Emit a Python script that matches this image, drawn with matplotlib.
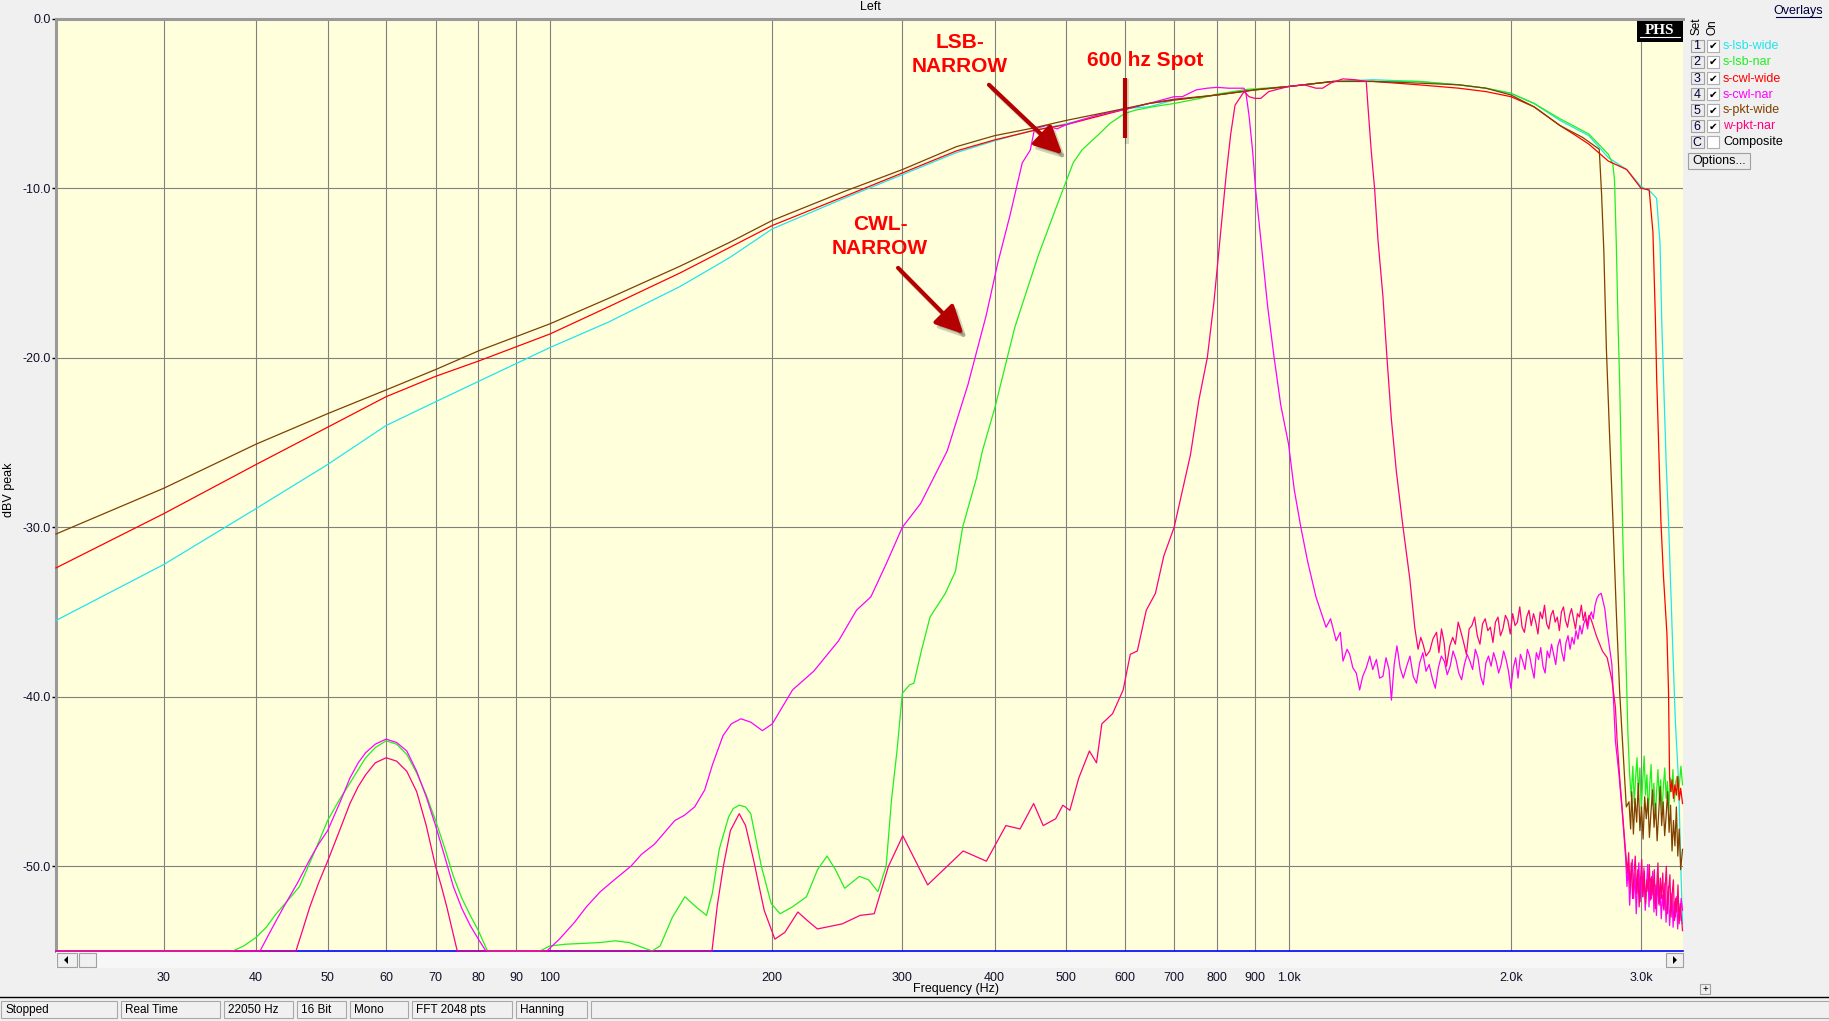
import matplotlib
matplotlib.use('Agg')
import matplotlib.pyplot as plt
from matplotlib.patches import Rectangle, Polygon
from matplotlib.lines import Line2D
from matplotlib.ticker import NullLocator

# ---- data (Hz, dBV) ----
lsb_wide_hz = [21.44, 30, 40, 50, 60, 70, 80, 100, 120, 150, 175, 200, 250, 300, 355, 400, 450, 500, 600, 647,
               700, 800, 900, 1000, 1150, 1300, 1500, 1700, 1850, 2000, 2150, 2330, 2450, 2550, 2710, 2870, 3000,
               3090, 3150, 3184, 3200, 3218, 3245, 3269, 3304, 3339, 3374, 3399, 3415]
lsb_wide_db = [-35.5, -32.2, -28.9, -26.3, -24.0, -22.6, -21.4, -19.4, -17.9, -15.8, -14.1, -12.4, -10.6, -9.2,
               -7.9, -7.2, -6.6, -6.2, -5.3, -5.2, -4.8, -4.5, -4.2, -4.0, -3.7, -3.6, -3.7, -3.9, -4.1, -4.4,
               -5.0, -6.0, -6.5, -6.9, -8.2, -8.9, -9.9, -10.2, -10.6, -13.3, -17.7, -21.1, -26.2, -29.6, -35.7,
               -41.4, -45.1, -50.5, -53.4]

lsb_nar_hz = [21.44, 37.2, 38.5, 40, 41.3, 42.6, 44, 45.8, 47.5, 48.6, 50, 52, 53.6, 55, 56.3, 58, 60, 62, 64,
              66, 68, 70, 72, 74, 76, 78, 80, 82.3, 96.9, 100, 105, 117, 122.5, 128, 137.5, 141, 146.5, 152.3,
              157.7, 162.9, 165.9, 169.5, 174.5, 177, 180.4, 184, 187, 193.3, 199.3, 204.9, 212.9, 222.5, 230.3,
              237.2, 243.5, 250.6, 262.4, 270, 278, 285.2, 290, 295, 300, 306.8, 311, 318.3, 327, 343, 354, 362,
              378, 385, 400, 426, 458, 483, 511, 525, 555, 573, 600, 621, 656, 700, 759, 800, 878, 1000, 1150,
              1300, 1500, 1700, 1850, 2000, 2150, 2330, 2450, 2550, 2710, 2749, 2763, 2778, 2792, 2807, 2822,
              2836, 2857, 2880, 2895,
              2910, 2925, 2938, 2950, 2963, 2976, 2990, 3003, 3016, 3030, 3043, 3056, 3070, 3083, 3096, 3110,
              3123, 3137, 3150, 3163, 3177, 3190, 3204, 3217, 3231, 3245, 3258, 3272, 3286, 3300, 3314, 3328,
              3342, 3356, 3370, 3384, 3398, 3415]
lsb_nar_db = [-55, -55, -54.7, -54.2, -53.6, -52.8, -52.1, -51.2, -49.6, -48.6, -47.3, -46.0, -45.1, -44.3,
              -43.6, -43.0, -42.6, -42.8, -43.4, -44.5, -45.8, -47.3, -48.9, -50.6, -51.9, -52.9, -53.8, -55, -55,
              -54.7, -54.6, -54.5, -54.4, -54.5, -55, -54.7, -53.0, -51.8, -52.4, -52.9, -51.6, -49.0, -47.1,
              -46.6, -46.4, -46.5, -46.9, -50.0, -52.2, -52.8, -52.4, -51.8, -50.2, -49.4, -50.2, -51.3, -50.6,
              -50.8, -51.5, -50.0, -46.1, -43.2, -39.8, -39.3, -39.2, -37.3, -35.3, -33.9, -32.6, -30.0, -27.1,
              -25.5, -23.0, -18.2, -14.0, -11.3, -8.5, -7.75, -6.77, -6.18, -5.59, -5.39, -5.19, -5.0, -4.7,
              -4.45, -4.17, -4.0, -3.7, -3.7, -3.7, -3.9, -4.1, -4.4, -5.0, -5.9, -6.4, -6.8, -8.0, -8.6, -9.6,
              -13.3, -17.7, -21.4, -26.2, -30.9, -36.3, -42.1, -44.5,
              -45.9, -44.1, -46.3, -44.8, -43.6, -45.7, -44.2, -46.6, -45.0, -43.5, -45.8, -44.6, -46.9, -45.2,
              -44.0, -46.4, -45.1, -47.2, -45.6, -44.3, -46.1, -44.9, -46.8, -45.3, -44.2, -46.0, -45.0, -46.7,
              -44.8, -45.6, -44.3, -46.2, -45.1, -44.7, -45.9, -45.0, -44.1, -45.2]

cwl_wide_hz = [21.44, 30, 40, 50, 60, 70, 80, 100, 120, 150, 175, 200, 250, 300, 355, 400, 451, 500, 600, 647,
               700, 800, 900, 1000, 1150, 1300, 1500, 1700, 1850, 2000, 2150, 2330, 2450, 2550, 2710, 2870, 3000,
               3078, 3114, 3138, 3150, 3167, 3192, 3218, 3253, 3269, 3280, 3292, 3305, 3320, 3335, 3350, 3365,
               3380, 3395, 3415]
cwl_wide_db = [-32.4, -29.2, -26.3, -24.1, -22.3, -21.1, -20.2, -18.6, -17.0, -15.0, -13.5, -12.2, -10.5, -9.1,
               -7.8, -7.15, -6.6, -6.25, -5.35, -5.0, -4.8, -4.5, -4.2, -4.0, -3.7, -3.7, -3.9, -4.1, -4.3, -4.6,
               -5.2, -6.3, -6.9, -7.4, -8.4, -8.9, -10.0, -10.1, -12.6, -17.7, -21.1, -24.5, -29.6, -32.9, -36.3,
               -39.7, -44.8, -45.6, -44.9, -46.0, -45.2, -45.8, -44.7, -46.1, -45.4, -46.3]

cwl_nar_hz = [21.44, 40.5, 42, 43.6, 45.5, 47.3, 48.6, 50, 52, 53.6, 55, 56.3, 58, 60, 62, 64, 66, 68, 70, 72,
              74, 76, 78, 80, 81.9, 99, 103, 108, 112, 117, 123, 128.7, 133, 138.5, 143, 147.6, 152, 157, 162,
              166, 171.5, 176, 181.4, 187, 193.9, 200, 213, 227.5, 245.9, 260, 272, 285, 300, 317.6, 345, 368,
              389.6, 404, 419.6, 436, 447, 453, 470, 486, 500, 550, 600, 647, 700, 718, 750, 776, 800, 830, 870,
              875, 884, 894, 902, 917, 937, 956, 976, 1000, 1018, 1039, 1061, 1089, 1112, 1124, 1140, 1160, 1175,
              1185, 1200, 1210, 1222, 1235, 1248, 1260, 1274, 1288, 1300, 1315, 1328, 1342, 1355, 1368, 1378,
              1390, 1402, 1416,
              1430, 1445, 1460, 1475, 1490, 1505, 1520, 1535, 1550, 1565,
              1580, 1595, 1610, 1625, 1640, 1655, 1670, 1685, 1700, 1715,
              1730, 1745, 1760, 1775, 1790, 1805, 1820, 1835, 1850, 1865,
              1880, 1895, 1910, 1925, 1940, 1955, 1970, 1985, 2000, 2015,
              2030, 2045, 2060, 2075, 2090, 2105, 2120, 2135, 2150, 2165,
              2180, 2195, 2210, 2225, 2240, 2255, 2270, 2285, 2300, 2315,
              2330, 2345, 2360, 2375, 2390, 2405, 2420, 2435, 2450, 2465,
              2480, 2495, 2510, 2525, 2540, 2555, 2570, 2585, 2600, 2615,
              2630, 2650, 2680, 2700, 2740, 2770, 2800, 2830,
              2860, 2872, 2884, 2896, 2908, 2920, 2932, 2944, 2956, 2968, 2980, 2992, 3004, 3016, 3028, 3040,
              3052, 3064, 3076, 3088, 3100, 3112, 3124, 3136, 3148, 3160, 3172, 3184, 3196, 3208, 3220, 3232,
              3244, 3256, 3268, 3280, 3292, 3304, 3316, 3328, 3340, 3352, 3364, 3376, 3388, 3400, 3415]
cwl_nar_db = [-55, -55, -53.7, -52.4, -51.0, -49.6, -48.7, -47.9, -46.2, -44.8, -43.9, -43.3, -42.8, -42.5,
              -42.7, -43.2, -44.4, -45.9, -47.6, -49.4, -51.2, -52.5, -53.5, -54.3, -55, -55, -54.3, -53.3, -52.4,
              -51.5, -50.7, -50.0, -49.3, -48.7, -48.0, -47.3, -47.0, -46.5, -45.5, -44.0, -42.3, -41.6, -41.3,
              -41.5, -42.0, -41.6, -39.6, -38.5, -36.7, -34.9, -34.1, -32.2, -30.0, -28.6, -25.5, -21.6, -17.5,
              -14.4, -11.6, -8.5, -7.75, -6.5, -6.3, -6.5, -6.25, -5.7, -5.35, -5.0, -4.6, -4.6, -4.2, -4.1,
              -4.05, -4.1, -4.1, -4.3, -5.7, -7.8, -10.0, -13.0, -17.0, -20.0, -22.8, -25.1, -27.8, -30.0, -32.0,
              -34.1, -35.3, -35.9, -35.4, -36.7, -36.2, -37.9, -37.2, -37.5, -38.3, -38.6, -39.6, -38.8, -38.3,
              -37.6, -38.4, -37.8, -38.9, -38.8, -37.7, -38.4, -40.2, -38.1, -37.0, -38.3,
              -38.9, -38.2, -37.6, -38.8, -39.2, -38.0, -37.4, -38.5, -38.1, -38.9,
              -39.5, -38.3, -37.6, -37.9, -38.7, -38.2, -37.3, -37.8, -38.6, -39.0,
              -38.1, -37.5, -37.9, -38.4, -37.2, -37.7, -38.8, -39.3, -38.0, -37.6,
              -38.2, -37.4, -37.9, -38.6, -38.1, -37.3, -37.8, -38.5, -39.5, -38.3,
              -37.7, -38.9, -37.5, -37.9, -38.4, -37.2, -37.6, -38.3, -38.9, -37.4,
              -37.8, -37.1, -38.2, -38.6, -37.3, -37.7, -36.9, -37.5, -38.1, -37.0,
              -36.6, -37.4, -37.9, -36.8, -36.4, -37.2, -36.5, -36.9, -36.1, -36.6,
              -35.8, -36.3, -35.7, -35.4, -36.0, -35.3, -35.0, -35.4, -34.6, -34.2,
              -34.0, -33.9, -34.8, -36.1, -38.1, -42.6, -44.5, -46.8,
              -49.5, -51.2, -50.0, -52.3, -50.8, -49.6, -51.9, -50.4, -52.8, -51.0, -49.8, -52.1, -50.6, -51.8,
              -50.1, -52.6, -51.3, -49.9, -52.4, -50.7, -51.9, -50.3, -52.7, -51.1, -52.9, -50.8, -52.2, -51.4,
              -53.1, -51.7, -52.5, -51.0, -53.3, -52.0, -51.2, -53.5, -52.3, -51.6, -53.6, -52.1, -53.0, -51.8,
              -53.7, -52.4, -53.2, -51.9, -52.6]

pkt_wide_hz = [21.44, 30, 40, 50, 60, 70, 80, 100, 120, 150, 175, 200, 250, 300, 355, 400, 451, 500, 600, 647,
               700, 800, 900, 1000, 1150, 1300, 1500, 1700, 1850, 2000, 2150, 2330, 2500, 2634, 2653, 2672, 2693,
               2720, 2749, 2778, 2807, 2836, 2866,
               2890, 2905, 2915, 2930, 2945, 2960, 2975, 2990, 3005, 3020, 3035, 3050, 3065, 3080, 3095, 3110,
               3125, 3140, 3155, 3170, 3185, 3200, 3215, 3230, 3245, 3260, 3275, 3290, 3305, 3320, 3335, 3350,
               3365, 3380, 3395, 3415]
pkt_wide_db = [-30.4, -27.7, -25.1, -23.3, -21.9, -20.7, -19.6, -18.0, -16.5, -14.6, -13.2, -11.9, -10.2, -8.9,
               -7.55, -6.9, -6.45, -6.0, -5.3, -5.0, -4.75, -4.5, -4.2, -4.0, -3.7, -3.7, -3.8, -3.9, -4.1, -4.5,
               -5.2, -6.3, -7.0, -7.7, -10.3, -13.7, -19.4, -24.5, -29.6, -35.0, -39.7, -43.1, -46.5,
               -46.2, -47.8, -45.6, -48.1, -46.0, -47.4, -45.1, -47.9, -46.5, -48.4, -45.9, -47.2, -46.0, -48.3,
               -46.8, -45.5, -47.7, -46.3, -48.5, -46.9, -45.3, -47.6, -46.2, -48.2, -47.0, -45.6, -48.0, -46.4,
               -49.1, -47.3, -48.8, -46.5, -49.4, -47.8, -50.2, -49.0]

pkt_nar_hz = [21.44, 45.3, 46.3, 47.3, 48.6, 50, 52, 53.6, 55, 56.3, 58, 60, 62, 64, 66, 68, 70, 71.3, 72.5, 73.7,
              74.9, 165.7, 168.5, 171.7, 175.5, 180.4, 184, 188.6, 195, 201.6, 208, 216.6, 223, 230.2, 248.7, 263,
              274.8, 287.3, 300.4, 324.6, 362.6, 389.8, 414.3, 433, 451.7, 465.4, 483.8, 494.7, 505.7, 519.9,
              537.5, 549.5, 558.7, 577.7, 597.1, 610.5, 624.1, 641.7, 660.3, 677.7, 700, 717.7, 736.7, 756.1,
              776.2, 792.5, 805.1, 815.2, 823.7, 835, 846.4, 861.5, 870.6, 884, 900, 917, 940, 1000, 1050, 1089,
              1112, 1140, 1184, 1230, 1274, 1280.5, 1294, 1307.5, 1321.2, 1342.1, 1359, 1377.6, 1399.3, 1428.8,
              1458.9, 1481.9, 1497.4,
              1510, 1521, 1535, 1553, 1568, 1586, 1598, 1611, 1624, 1636, 1653, 1668, 1682, 1697, 1712, 1726,
              1741, 1756, 1771, 1786, 1801, 1816, 1831, 1846, 1861, 1876, 1891, 1906, 1921, 1936, 1951, 1966,
              1981, 1996, 2011, 2026, 2041, 2056, 2071, 2086, 2101, 2116, 2131, 2146, 2161, 2176, 2191, 2206,
              2221, 2236, 2251, 2266, 2281, 2296, 2311, 2326, 2341, 2356, 2371, 2386, 2401, 2416, 2431, 2446,
              2461, 2476, 2491, 2506, 2521, 2536, 2551, 2566,
              2580, 2610, 2660, 2700, 2740, 2770, 2785, 2810, 2840,
              2875, 2887, 2899, 2911, 2923, 2935, 2947, 2959, 2971, 2983, 2995, 3007, 3019, 3031, 3043, 3055,
              3067, 3079, 3091, 3103, 3115, 3127, 3139, 3151, 3163, 3175, 3187, 3199, 3211, 3223, 3235, 3247,
              3259, 3271, 3283, 3295, 3307, 3319, 3331, 3343, 3355, 3367, 3379, 3391, 3415]
pkt_nar_db = [-55, -55, -53.7, -52.4, -51.0, -49.7, -47.8, -46.3, -45.3, -44.6, -43.9, -43.6, -43.8, -44.4,
              -45.6, -47.6, -50.0, -51.2, -52.4, -53.7, -55, -55, -52.3, -50.0, -47.9, -46.9, -47.6, -49.6, -52.6,
              -54.3, -53.9, -52.7, -53.2, -53.7, -53.4, -52.9, -52.8, -50.0, -48.2, -51.1, -49.1, -49.7, -47.6,
              -47.8, -46.3, -47.6, -47.2, -46.4, -46.7, -44.8, -43.2, -43.9, -41.6, -41.0, -39.6, -37.5, -37.3,
              -34.9, -33.9, -31.7, -30.0, -27.9, -25.7, -22.5, -20.0, -16.7, -13.6, -11.2, -9.1, -6.8, -5.1,
              -4.6, -4.3, -4.6, -4.7, -4.7, -4.3, -4.0, -3.9, -4.1, -4.1, -3.8, -3.55, -3.6, -3.7, -5.1, -7.8,
              -10.0, -13.0, -16.4, -20.0, -23.6, -26.7, -30.0, -33.0, -35.9, -37.2,
              -36.5, -36.9, -37.6, -37.3, -36.6, -36.2, -37.4, -36.0, -36.8, -38.2,
              -37.0, -36.5, -36.9, -35.6, -36.2, -36.8, -37.5, -36.0, -35.8, -35.3,
              -36.4, -36.9, -35.7, -35.4, -36.1, -35.9, -36.8, -35.6, -35.3, -36.4,
              -36.0, -35.2, -35.5, -36.3, -35.1, -35.8, -35.6, -34.7, -35.9, -36.2,
              -35.3, -34.9, -35.8, -35.1, -35.6, -36.3, -35.0, -35.4, -34.6, -35.7,
              -36.0, -35.2, -34.9, -35.6, -35.3, -36.1, -35.0, -34.7, -35.5, -35.9,
              -35.2, -34.8, -35.4, -36.0, -35.1, -35.3, -34.6, -35.5, -35.0, -35.8,
              -35.2, -35.4,
              -35.7, -36.4, -37.3, -37.7, -39.0, -40.6, -42.6, -45.0, -47.5,
              -50.4, -49.2, -51.3, -49.8, -51.9, -50.5, -49.4, -51.6, -50.2, -52.4, -50.9, -49.6, -51.8, -50.3,
              -52.2, -50.8, -51.5, -49.9, -52.0, -50.6, -51.7, -50.2, -52.5, -51.1, -49.8, -52.3, -50.7, -51.9,
              -50.4, -52.6, -51.2, -50.0, -52.8, -51.4, -50.5, -53.0, -51.6, -50.8, -53.2, -51.9, -52.7, -51.1,
              -53.4, -52.2, -53.8]

series = [
    ('1', 's-lsb-wide', lsb_wide_hz, lsb_wide_db, '#22E4EC'),
    ('2', 's-lsb-nar', lsb_nar_hz, lsb_nar_db, '#22EE22'),
    ('3', 's-cwl-wide', cwl_wide_hz, cwl_wide_db, '#FF0000'),
    ('4', 's-cwl-nar', cwl_nar_hz, cwl_nar_db, '#FF00FF'),
    ('5', 's-pkt-wide', pkt_wide_hz, pkt_wide_db, '#804000'),
    ('6', 'w-pkt-nar', pkt_nar_hz, pkt_nar_db, '#FF0080'),
]

x_ticks = [30, 40, 50, 60, 70, 80, 90, 100, 200, 300, 400, 500, 600, 700, 800, 900, 1000, 2000, 3000]
x_tick_labels = ['30', '40', '50', '60', '70', '80', '90', '100', '200', '300', '400', '500', '600', '700',
                 '800', '900', '1.0k', '2.0k', '3.0k']
y_ticks = [0, -10, -20, -30, -40, -50]
y_tick_labels = ['0.0', '-10.0', '-20.0', '-30.0', '-40.0', '-50.0']

status_cells = [(0, 117, 'Stopped'), (120, 220, 'Real Time'), (223, 293, '22050 Hz'), (296, 346, '16 Bit'),
                (349, 408, 'Mono'), (411, 512, 'FFT 2048 pts'), (515, 587, 'Hanning'), (590, 1829, '')]

SPOT_HZ = 600

# ---- figure ----
W, H = 1829, 1021
plt.rcParams['font.family'] = ['Liberation Sans', 'DejaVu Sans']
fig = plt.figure(figsize=(W / 100, H / 100), dpi=100, facecolor='#F0F0F0')


def fx(x):
    return x / W


def fy(y):
    return 1 - y / H


def box(x0, y0, x1, y1, **kw):
    fig.add_artist(Rectangle((fx(x0), fy(y1)), (x1 - x0) / W, (y1 - y0) / H,
                             transform=fig.transFigure, **kw))


def txt(x, y, s, **kw):
    kw.setdefault('fontsize', 8.5)
    kw.setdefault('va', 'center')
    fig.text(fx(x), fy(y), s, **kw)


def hline(x0, x1, y, **kw):
    fig.add_artist(Line2D([fx(x0), fx(x1)], [fy(y), fy(y)], transform=fig.transFigure, **kw))


ax = fig.add_axes([fx(56), fy(951), (1683 - 56) / W, (951 - 18.7) / H])
ax.set_facecolor('#FFFFDC')
ax.set_xscale('log')
ax.set_xlim(21.44, 3420)
ax.set_ylim(-55, 0)
ax.set_xticks(x_ticks)
ax.set_xticklabels(x_tick_labels)
ax.xaxis.set_minor_locator(NullLocator())
ax.set_yticks(y_ticks)
ax.set_yticklabels(y_tick_labels)
ax.tick_params(axis='x', length=0, pad=15, labelsize=9, labelcolor='#101028')
ax.tick_params(axis='y', length=3, width=1, pad=1, labelsize=9, labelcolor='#101028')
ax.grid(True, color='#808080', lw=0.8)
ax.set_axisbelow(True)
for side in ['top', 'left']:
    ax.spines[side].set_color('#9A9A9A')
    ax.spines[side].set_linewidth(2.2)
ax.spines['right'].set_visible(False)
ax.spines['bottom'].set_color('#0000FF')
ax.spines['bottom'].set_linewidth(1.2)

for num, name, f, d, c in series:
    ax.plot(f, d, color=c, lw=0.9, zorder=3, clip_on=False)

# annotations
red = '#FF0000'
dark = '#B40000'
txt(960, 43, 'LSB-', ha='center', fontsize=15, fontweight='bold', color=red)
txt(960, 67, 'NARROW', ha='center', fontsize=15, fontweight='bold', color=red)
txt(880, 224, 'CWL-', ha='center', fontsize=15, fontweight='bold', color=red)
txt(880, 248, 'NARROW', ha='center', fontsize=15, fontweight='bold', color=red)
txt(1145, 61, '600 hz Spot', ha='center', fontsize=15, fontweight='bold', color=red)

for (x0, y0, x1, y1) in [(393, -3.9, 494, -8.0), (296, -14.7, 363, -18.6)]:
    ax.annotate('', xy=(x1 * 1.01, y1 - 0.25), xytext=(x0 * 1.01, y0 - 0.25),
                arrowprops=dict(arrowstyle='-|>,head_length=1.4,head_width=0.7', color='#000000', alpha=0.18,
                                lw=3, mutation_scale=12, shrinkA=0, shrinkB=0), zorder=4)
    ax.annotate('', xy=(x1, y1), xytext=(x0, y0),
                arrowprops=dict(arrowstyle='-|>,head_length=1.4,head_width=0.7', color=dark,
                                lw=3, mutation_scale=12, shrinkA=0, shrinkB=0), zorder=5)
ax.plot([SPOT_HZ * 1.006, SPOT_HZ * 1.006], [-3.7, -7.3], color='#000000', alpha=0.15, lw=3, zorder=4)
ax.plot([SPOT_HZ, SPOT_HZ], [-3.5, -7.05], color=dark, lw=3, zorder=5, solid_capstyle='butt')

# axis texts
txt(870, 7, 'Left', ha='center', fontsize=9)
txt(956, 989, 'Frequency (Hz)', ha='center', fontsize=9)
txt(9, 490, 'dBV peak', ha='center', rotation=90, fontsize=9)

# scrollbar under the plot
box(56, 952, 1683, 968, fc='#F7F7F7', ec='none')
box(57, 953, 77, 967, fc='#F0F0F0', ec='#A0A0A0', lw=0.8)
box(79, 953, 96, 967, fc='#F0F0F0', ec='#A0A0A0', lw=0.8)
box(1666, 953, 1683, 967, fc='#F0F0F0', ec='#A0A0A0', lw=0.8)
fig.add_artist(Polygon([(fx(64), fy(960)), (fx(68), fy(956)), (fx(68), fy(964))], closed=True,
                       transform=fig.transFigure, fc='black', ec='none'))
fig.add_artist(Polygon([(fx(1677), fy(960)), (fx(1673), fy(956)), (fx(1673), fy(964))], closed=True,
                       transform=fig.transFigure, fc='black', ec='none'))
box(1700, 984, 1710, 994, fc='#F0F0F0', ec='#A0A0A0', lw=0.8)
txt(1705, 989, '+', ha='center', fontsize=7)

# PHS logo
box(1637, 21, 1683, 42, fc='black', ec='none')
txt(1660, 30, 'PHS', ha='center', fontsize=11, fontweight='bold', color='white',
    family=['Liberation Serif', 'DejaVu Serif'])
hline(1640, 1680, 37.5, color='white', lw=0.8)

# overlay panel
txt(1798, 11, 'Overlays', ha='center', fontsize=9, color='#000040')
hline(1776, 1821, 17, color='#000040', lw=0.8)
txt(1697, 26, 'Set', ha='center', rotation=90, fontsize=8.5)
txt(1713, 27, 'On', ha='center', rotation=90, fontsize=8.5)
row_y = [46, 62, 78.5, 94.5, 110.5, 126.5, 142.5]
rows = [(s[0], s[1], s[4], True) for s in series] + [('C', 'Composite', '#000000', False)]
for yy, (num, name, col, on) in zip(row_y, rows):
    box(1690.5, yy - 6, 1703.5, yy + 6, fc='#ECECEC', ec='#A0A0A0', lw=0.8)
    txt(1697, yy, num, ha='center', fontsize=9, color='#000040')
    box(1707, yy - 6, 1719, yy + 6, fc='white', ec='#B0B0B0', lw=0.8)
    if on:
        txt(1713, yy, '\u2714', ha='center', fontsize=7.5, color='black', family='DejaVu Sans')
    txt(1723, yy, name, ha='left', fontsize=9, color=col)
box(1688, 153, 1750, 169, fc='#ECECEC', ec='#A0A0A0', lw=0.8)
txt(1719, 161, 'Options...', ha='center', fontsize=9)

# status bar
hline(0, W, 996.5, color='black', lw=1.0)
for x0, x1, s in status_cells:
    box(x0 + 1, 1001, x1, 1018, fc='#F0F0F0', ec='#A8A8A8', lw=0.8)
    txt(x0 + 5, 1010, s, ha='left', fontsize=8.5)

fig.savefig('out.png', dpi=100, facecolor=fig.get_facecolor())
